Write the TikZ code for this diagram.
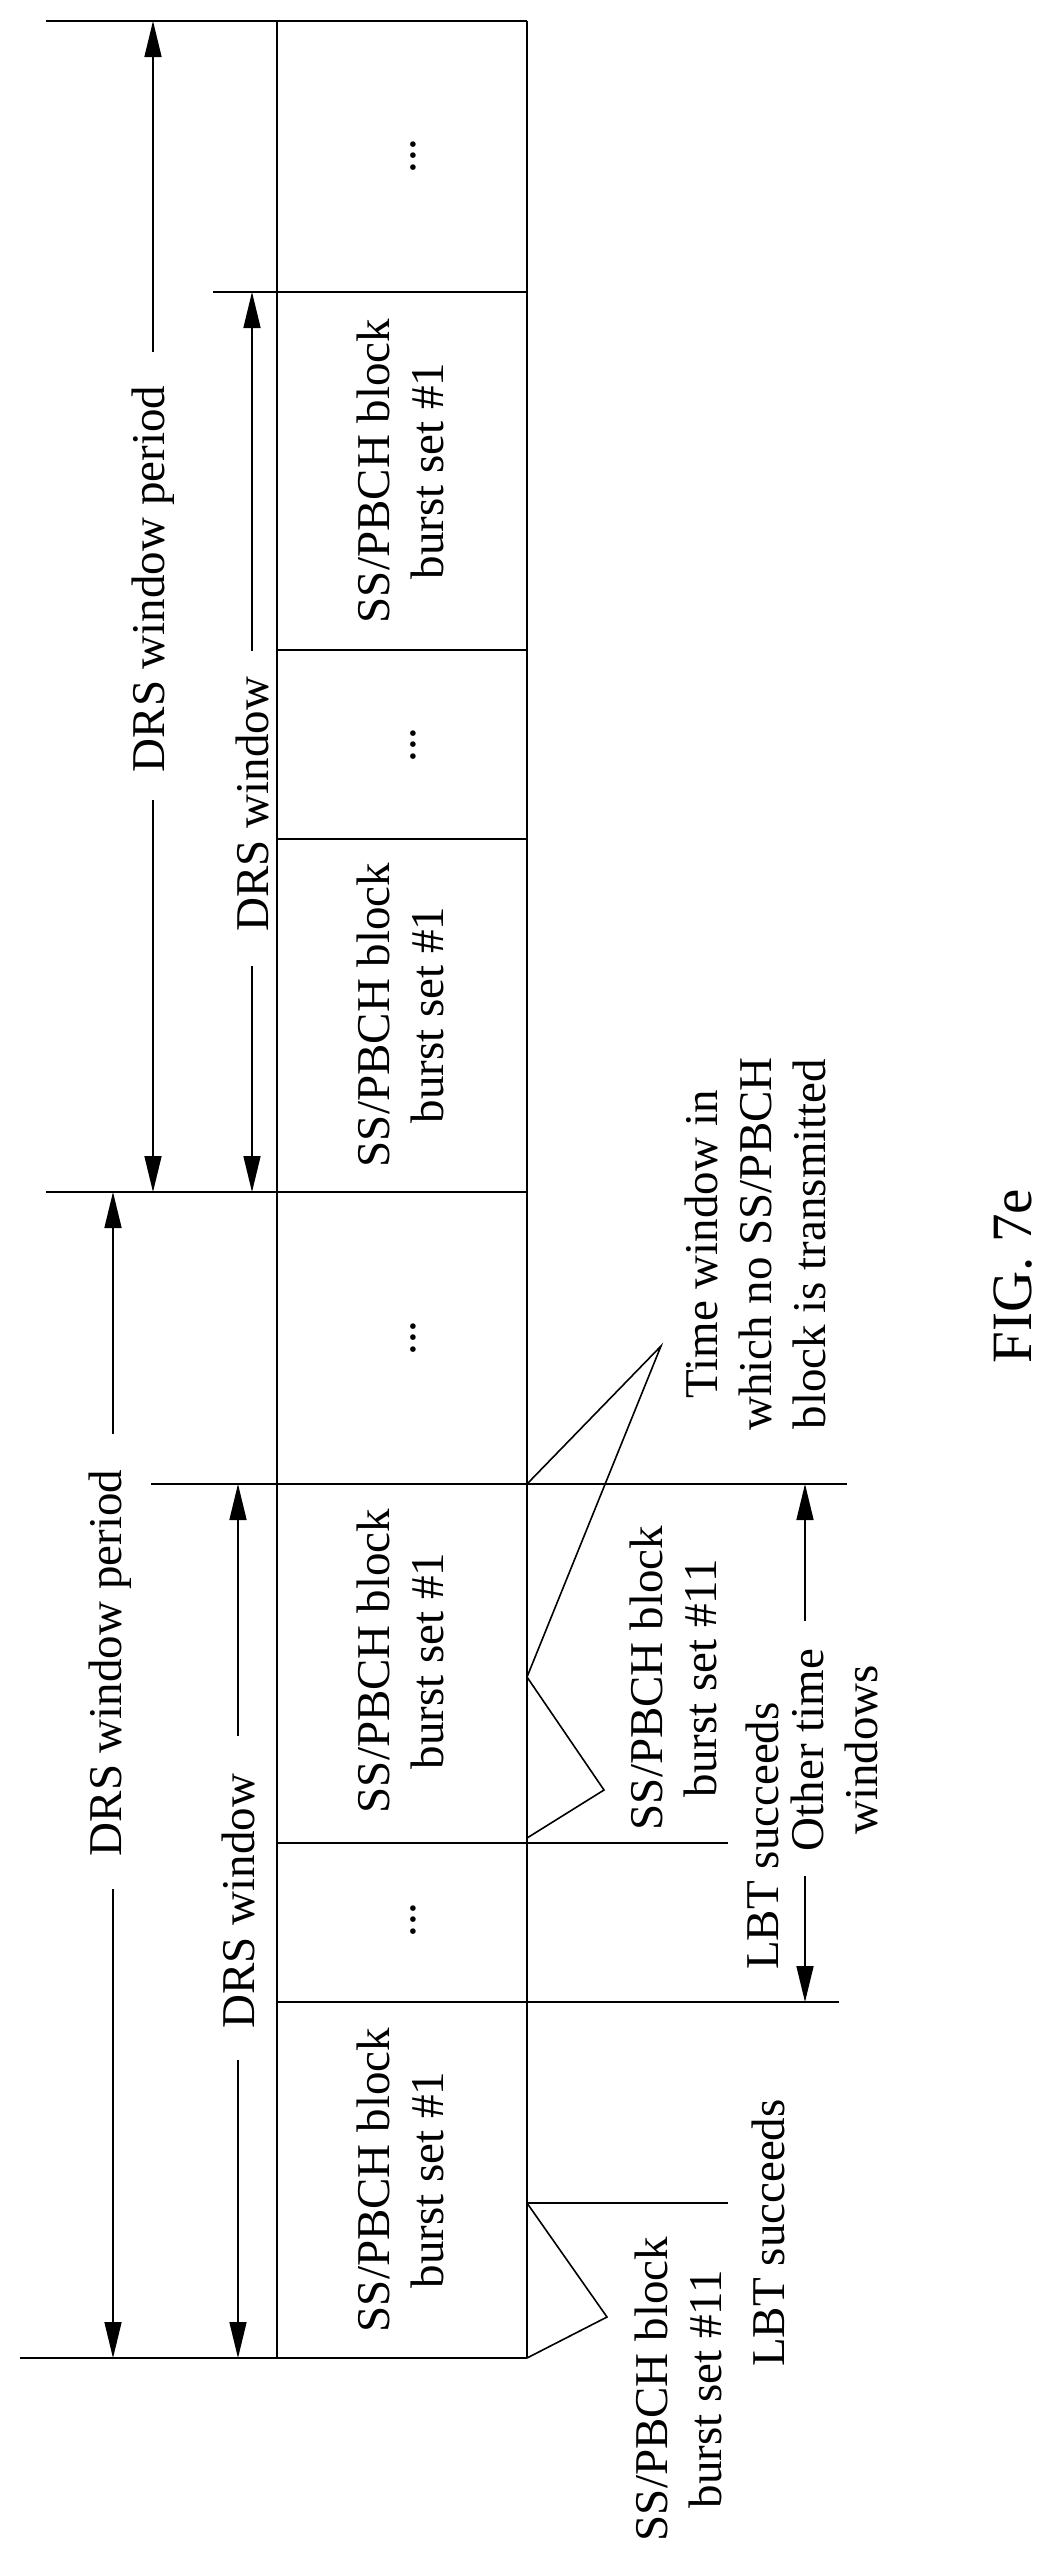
\documentclass[tikz,border=0pt]{standalone}
\usepackage{fontspec}
\setmainfont{Liberation Serif}
\usetikzlibrary{arrows.meta}
\begin{document}
\begin{tikzpicture}[x=0.5pt,y=-0.5pt,
  ln/.style={line width=1pt},
  thin/.style={line width=0.8pt},
  arr/.style={line width=0.8pt,-{Triangle[length=18pt,width=8.5pt]}},
  lab/.style={rotate=90,font=\fontsize{23.5}{27}\selectfont,align=center,inner sep=0pt},
  dots/.style={rotate=90,font=\fontsize{23.5}{27}\selectfont,inner sep=0pt}]
\useasboundingbox (0,0) rectangle (1047,2554);
% frame
\draw[ln] (277,21) -- (277,2358);
\draw[ln] (527,21) -- (527,2358);
\draw[ln] (46,21) -- (527,21);
\draw[ln] (213,292) -- (527,292);
\draw[ln] (277,650) -- (527,650);
\draw[ln] (277,839) -- (527,839);
\draw[ln] (46,1192) -- (527,1192);
\draw[ln] (151,1484) -- (847,1484);
\draw[ln] (277,1843) -- (728,1843);
\draw[ln] (277,2002) -- (839,2002);
\draw[ln] (20,2358) -- (527,2358);
\draw[ln] (527,2203) -- (728,2203);
% cell texts
\node[dots] (c1) at (413,156) {...};
\node[lab] (c2) at (400,471) {SS/PBCH block\\burst set \#1};
\node[dots] (c3) at (413,745) {...};
\node[lab] (c4) at (400,1015) {SS/PBCH block\\burst set \#1};
\node[dots] (c5) at (413,1338) {...};
\node[lab] (c6) at (400,1661) {SS/PBCH block\\burst set \#1};
\node[dots] (c7) at (413,1920) {...};
\node[lab] (c8) at (400,2180) {SS/PBCH block\\burst set \#1};
% dimension labels
\node[lab] (p1) at (153,579) {DRS window period};
\node[lab] (w1) at (252,804) {DRS window};
\node[lab] (p2) at (110,1663) {DRS window period};
\node[lab] (w2) at (238,1901) {DRS window};
\node[lab] (ot) at (834,1750) {Other time\\windows};
\coordinate (p1a) at (153,21); \coordinate (p1b) at (153,1192);
\coordinate (w1a) at (252,292); \coordinate (w1b) at (252,1192);
\coordinate (p2a) at (113,1192); \coordinate (p2b) at (113,2358);
\coordinate (w2a) at (238,1484); \coordinate (w2b) at (238,2358);
\coordinate (ota) at (805,1484); \coordinate (otb) at (805,2002);
\draw[arr] (153,352) -- (p1a);
\draw[arr] (153,800) -- (p1b);
\draw[arr] (252,651) -- (w1a);
\draw[arr] (252,966) -- (w1b);
\draw[arr] (113,1434) -- (p2a);
\draw[arr] (113,1889) -- (p2b);
\draw[arr] (238,1736) -- (w2a);
\draw[arr] (238,2060) -- (w2b);
\draw[arr] (805,1621) -- (ota);
\draw[arr] (805,1876) -- (otb);
% callouts
\node[lab] (tw) at (755,1244) {Time window in\\which no SS/PBCH\\block is transmitted};
\node[lab] (b11a) at (673,1678) {SS/PBCH block\\burst set \#11};
\node[lab] (lbt1) at (762,1836) {LBT succeeds};
\node[lab] (b11b) at (678,2389) {SS/PBCH block\\burst set \#11};
\node[lab] (lbt2) at (768,2233) {LBT succeeds};
\coordinate (t1) at (661,1346);
\draw[thin] (527,1484) -- (t1) -- (527,1677) -- (604,1790) -- (527,1838);
\draw[thin] (527,2203) -- (607,2317) -- (527,2358);
\node[rotate=90,font=\fontsize{28.5}{30}\selectfont,inner sep=0pt] (fig) at (1013,1276) {FIG. 7e};
\end{tikzpicture}
\end{document}
